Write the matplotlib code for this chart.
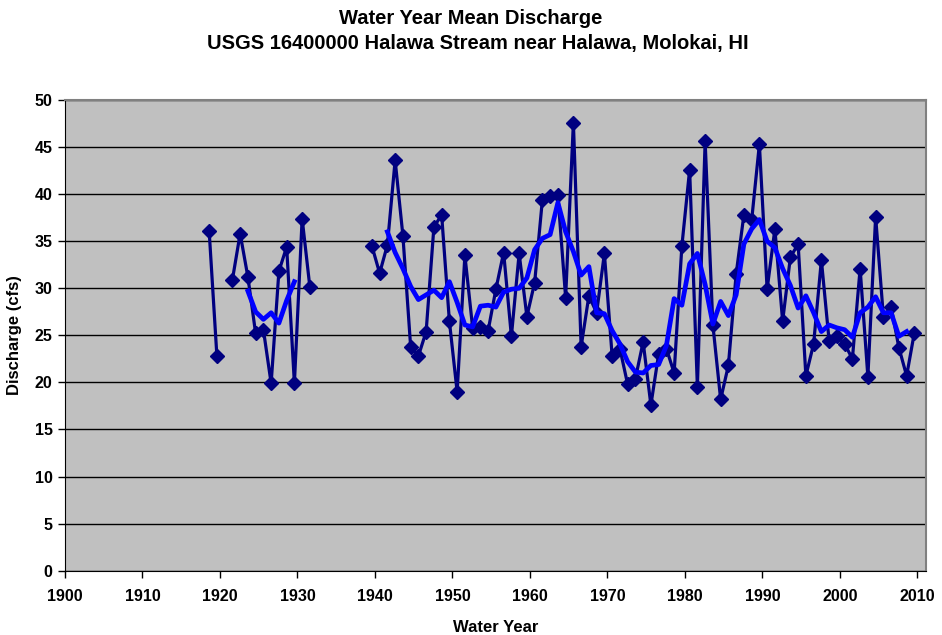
import numpy as np
import matplotlib
matplotlib.use("Agg")
import matplotlib.pyplot as plt

# Water year mean discharge (cfs), gaps are NaN
years = np.arange(1918, 2010)
discharge = [
    36.1, 22.8, np.nan, 30.9, 35.8, 31.2, 25.2, 25.6, 19.9, 31.8,   # 1918-1927
    34.4, 19.9, 37.4, 30.1, np.nan, np.nan, np.nan, np.nan, np.nan, np.nan,  # 1928-1937
    np.nan, 34.5, 31.6, 34.6, 43.6, 35.6, 23.8, 22.8, 25.4, 36.5,  # 1938-1947
    37.8, 26.5, 19.0, 33.5, 25.8, 25.9, 25.5, 29.9, 33.8, 24.9,    # 1948-1957
    33.7, 27.0, 30.6, 39.4, 39.8, 39.9, 29.0, 47.6, 23.8, 29.2,    # 1958-1967
    27.4, 33.7, 22.8, 23.6, 19.8, 20.4, 24.3, 17.6, 23.0, 23.6,    # 1968-1977
    21.0, 34.5, 42.6, 19.5, 45.6, 26.1, 18.2, 21.8, 31.5, 37.8,    # 1978-1987
    37.2, 45.3, 29.9, 36.3, 26.5, 33.3, 34.7, 20.7, 24.1, 33.0,    # 1988-1997
    24.4, 24.9, 24.1, 22.5, 32.1, 20.6, 37.6, 27.0, 28.0, 23.7,    # 1998-2007
    20.7, 25.3,                                                    # 2008-2009
]

# 5-year moving average
moving_avg = [
    np.nan, np.nan, np.nan, np.nan, np.nan, 29.7, 27.5, 26.7, 27.4, 26.3,  # 1918-1927
    28.7, 30.7, np.nan, np.nan, np.nan, np.nan, np.nan, np.nan, np.nan, np.nan,  # 1928-1937
    np.nan, np.nan, np.nan, 36.0, 33.8, 32.1, 30.2, 28.8, 29.3, 29.8,  # 1938-1947
    29.0, 30.7, 28.5, 26.1, 25.9, 28.1, 28.2, 28.0, 29.6, 29.9,    # 1948-1957
    30.0, 31.1, 34.1, 35.3, 35.7, 39.1, 36.0, 33.9, 31.4, 32.3,    # 1958-1967
    27.4, 27.3, 25.5, 24.1, 22.2, 21.1, 21.0, 21.8, 21.9, 23.9,    # 1968-1977
    28.9, 28.2, 32.6, 33.7, 30.4, 26.2, 28.6, 27.1, 29.3, 34.7,    # 1978-1987
    36.3, 37.3, 35.0, 34.3, 32.1, 30.3, 27.9, 29.2, 27.4, 25.4,    # 1988-1997
    26.1, 25.8, 25.6, 24.8, 27.4, 28.0, 29.1, 27.4, 27.4, 24.9,    # 1998-2007
    25.4, np.nan,                                                  # 2008-2009
]

x_ticks = np.arange(1900, 2011, 10)
y_ticks = np.arange(0, 51, 5)

fig = plt.figure(figsize=(9.42, 6.35), dpi=100)
ax = fig.add_axes([65 / 942, 1 - 570.7 / 635, (926 - 65) / 942, (570.7 - 100) / 635])
ax.set_facecolor("#C0C0C0")

xs = years + 0.6  # points sit mid-year
ax.plot(xs, discharge, color="#000080", lw=2.3, marker="D", ms=7,
        markerfacecolor="#000080", markeredgecolor="#000080", zorder=3)
ax.plot(xs, moving_avg, color="#0000FF", lw=3.4, zorder=4, solid_joinstyle="round")

ax.set_xlim(1900, 2011.1)
ax.set_ylim(0, 50)
ax.set_xticks(x_ticks)
ax.set_yticks(y_ticks)
ax.yaxis.grid(True, color="black", lw=1)
ax.set_axisbelow(True)

for side in ["top", "right"]:
    ax.spines[side].set_color("#808080")
    ax.spines[side].set_linewidth(1.5)
ax.spines["left"].set_color("black")
ax.spines["bottom"].set_color("black")

ax.tick_params(direction="out", length=5, width=1, labelsize=11.5, pad=4)
for lab in ax.get_xticklabels() + ax.get_yticklabels():
    lab.set_fontweight("bold")
    lab.set_family("Liberation Sans")
ax.tick_params(axis="x", pad=8)

ax.set_xlabel("Water Year", fontsize=12, fontweight="bold", family="Liberation Sans", labelpad=12)
ax.set_ylabel("Discharge (cfs)", fontsize=12, fontweight="bold", family="Liberation Sans", labelpad=9)

fig.text(471 / 942, 1 - 18 / 635, "Water Year Mean Discharge", ha="center", va="center",
         fontsize=14.5, fontweight="bold", family="Liberation Sans")
fig.text(478 / 942, 1 - 43 / 635, "USGS 16400000 Halawa Stream near Halawa, Molokai, HI",
         ha="center", va="center", fontsize=14.5, fontweight="bold", family="Liberation Sans")

fig.savefig("out.png", dpi=100)
